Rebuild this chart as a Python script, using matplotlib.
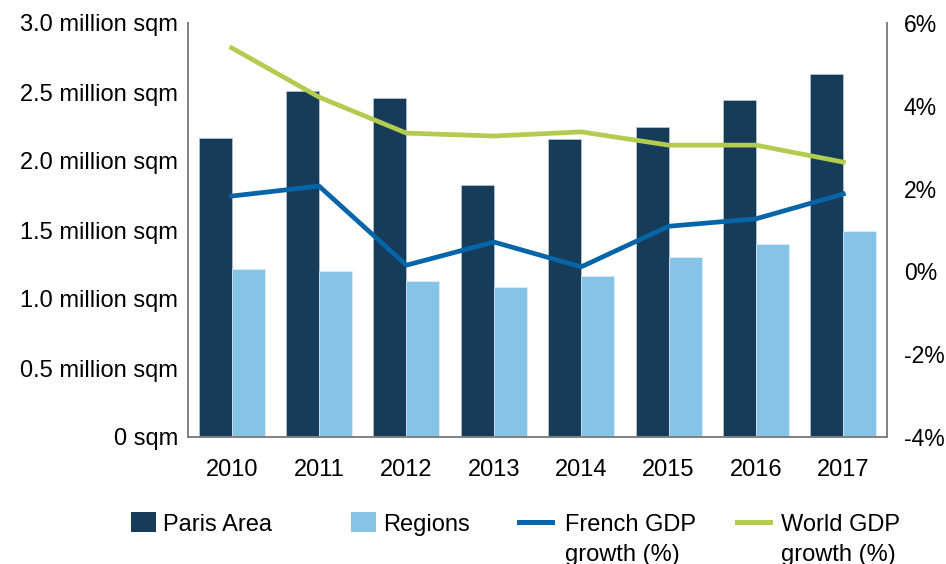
import matplotlib
matplotlib.use("Agg")
import matplotlib.pyplot as plt
from matplotlib import font_manager
from matplotlib.patches import Patch
from matplotlib.lines import Line2D
import numpy as np

years = ["2010", "2011", "2012", "2013", "2014", "2015", "2016", "2017"]
paris_area = [2.165, 2.507, 2.459, 1.826, 2.159, 2.246, 2.442, 2.63]
regions = [1.217, 1.203, 1.13, 1.087, 1.167, 1.304, 1.398, 1.493]
french_gdp = [1.82, 2.06, 0.15, 0.71, 0.11, 1.09, 1.27, 1.87]
world_gdp = [5.40, 4.21, 3.34, 3.27, 3.37, 3.05, 3.05, 2.64]

left_ticks = [0, 0.5, 1.0, 1.5, 2.0, 2.5, 3.0]
left_labels = ["0 sqm", "0.5 million sqm", "1.0 million sqm", "1.5 million sqm",
               "2.0 million sqm", "2.5 million sqm", "3.0 million sqm"]
right_ticks = [-4, -2, 0, 2, 4, 6]
right_labels = ["-4%", "-2%", "0%", "2%", "4%", "6%"]

PARIS_C = "#173C5A"
REGIONS_C = "#85C4E6"
FRENCH_C = "#0565A8"
WORLD_C = "#B3CB4E"
SPINE_C = "#808080"

W, H = 946, 564
names = {f.name for f in font_manager.fontManager.ttflist}
plt.rcParams["font.family"] = "Liberation Sans" if "Liberation Sans" in names else "DejaVu Sans"

fig = plt.figure(figsize=(W / 100, H / 100), dpi=100)
ax = fig.add_axes([188 / W, 1 - 437 / H, (887 - 188) / W, (437 - 23) / H])
ax2 = ax.twinx()

x = np.arange(len(years))
w = 0.378
ax.bar(x - w / 2, paris_area, w, color=PARIS_C, edgecolor="#c8d3dc", linewidth=0.4, zorder=2)
ax.bar(x + w / 2, regions, w, color=REGIONS_C, edgecolor="#e6f3fa", linewidth=0.4, zorder=2)
ax.set_xlim(-0.5, len(years) - 0.5)
ax.set_ylim(0, 3.0)
ax.set_yticks(left_ticks)
ax.set_yticklabels(left_labels, fontsize=17)
ax.set_xticks(x)
ax.set_xticklabels(years, fontsize=17)
ax.tick_params(axis="y", length=0, pad=7)
ax.tick_params(axis="x", length=0, pad=16)

ax2.plot(x, french_gdp, color=FRENCH_C, lw=3.4, zorder=3)
ax2.plot(x, world_gdp, color=WORLD_C, lw=3.4, zorder=3)
ax2.set_ylim(-4, 6)
ax2.set_yticks(right_ticks)
ax2.set_yticklabels(right_labels, fontsize=16.5)
ax2.tick_params(axis="y", length=0, pad=12)

for a in (ax, ax2):
    a.spines["top"].set_visible(False)
    for s in ("left", "right", "bottom"):
        a.spines[s].set_color(SPINE_C)
        a.spines[s].set_linewidth(1.2)

# legend: one entry per slot, as in the original layout
items = [
    (Patch(facecolor=PARIS_C), "Paris Area", 131, 1.06, 0.3),
    (Patch(facecolor=REGIONS_C), "Regions", 351, 1.06, 0.3),
    (Line2D([0], [0], color=FRENCH_C, lw=3.6), "French GDP", 519, 1.4, 0.55),
    (Line2D([0], [0], color=WORLD_C, lw=3.6), "World GDP", 737, 1.4, 0.45),
]
legends = []
for handle, label, xpx, hlen, hpad in items:
    leg = fig.legend([handle], [label], loc="center left",
                     bbox_to_anchor=(xpx / W, 1 - 524 / H), frameon=False,
                     fontsize=17, handlelength=hlen, handleheight=0.93,
                     handletextpad=hpad, borderaxespad=0, borderpad=0)
    legends.append(leg)

fig.canvas.draw()
renderer = fig.canvas.get_renderer()
for leg in legends[2:]:
    bb = leg.get_texts()[0].get_window_extent(renderer)
    fig.text(bb.x0 / W, (bb.y0 - 30) / H, "growth (%)", fontsize=17,
             ha="left", va="bottom")

fig.savefig("out.png", dpi=100)
